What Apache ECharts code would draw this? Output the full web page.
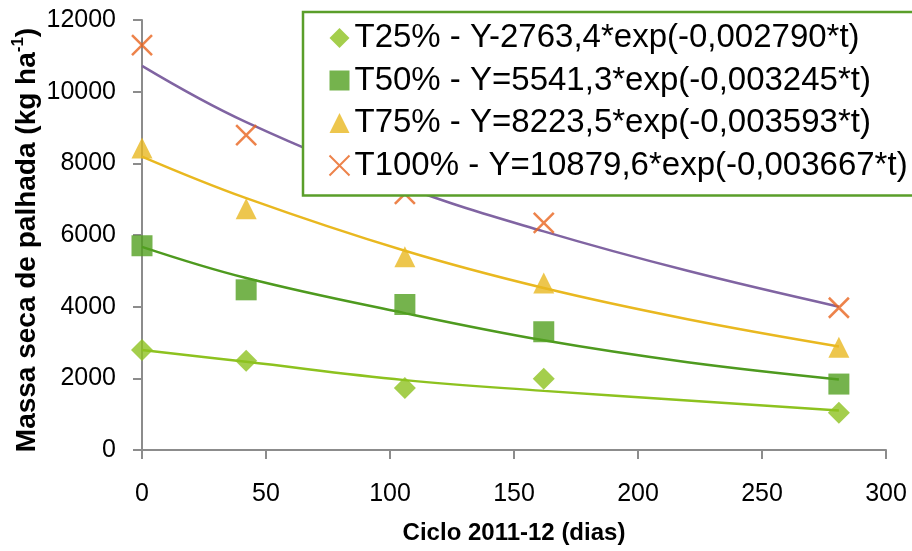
<!DOCTYPE html>
<html>
<head>
<meta charset="utf-8">
<script src="https://cdn.jsdelivr.net/npm/echarts@6/dist/echarts.min.js"></script>
<style>html,body{margin:0;padding:0;background:#fff;}#c{width:912px;height:551px;}</style>
</head>
<body>
<div id="c"></div>
<script>
// Observed data (days, kg/ha)
const tDays = [0, 42, 106, 162, 281];
const t25 = [2790, 2490, 1730, 1990, 1040];
const t50 = [5700, 4470, 4060, 3300, 1840];
const t75 = [8430, 6730, 5390, 4660, 2870];
const t100 = [11300, 8790, 7150, 6340, 3970];
// Fitted curves
const curveT = [0, 42, 106, 162, 220, 281];
const fit25 = [2790, 2460, 1950, 1650, 1380, 1100];
const fit50 = [5670, 4800, 3820, 3060, 2450, 1970];
const fit75 = [8190, 7030, 5560, 4520, 3650, 2890];
const fit100 = [10720, 9150, 7340, 6100, 5000, 4000];
const names = [
  'T25% - Y-2763,4*exp(-0,002790*t)',
  'T50% - Y=5541,3*exp(-0,003245*t)',
  'T75% - Y=8223,5*exp(-0,003593*t)',
  'T100% - Y=10879,6*exp(-0,003667*t)'
];
const xTicks = [0, 50, 100, 150, 200, 250, 300];
const yTicks = [0, 2000, 4000, 6000, 8000, 10000, 12000];

const pairs = (xs, ys) => xs.map((x, i) => [x, ys[i]]);
const FONT = '"Liberation Sans", Arial, sans-serif';
const AX = '#8c8c8c';

const chart = echarts.init(document.getElementById('c'), null, {renderer: 'canvas'});
const lineS = (data, color) => ({
  type: 'line', data: data, smooth: 0.4, showSymbol: false, silent: true, z: 1,
  lineStyle: {color: color, width: 2.5}
});
chart.setOption({
  animation: false,
  grid: {left: 142, right: 26, top: 20, bottom: 101, containLabel: false, outerBoundsMode: 'none'},
  xAxis: {
    type: 'value', min: xTicks[0], max: xTicks[xTicks.length - 1], interval: 50,
    splitLine: {show: false},
    axisLine: {show: true, lineStyle: {color: AX, width: 2}},
    axisTick: {show: true, length: 9, lineStyle: {color: AX, width: 2}},
    axisLabel: {margin: 32, fontSize: 25, color: '#000', fontFamily: FONT,
      formatter: v => String(v)},
    name: 'Ciclo 2011-12 (dias)', nameLocation: 'middle', nameGap: 71,
    nameTextStyle: {fontSize: 24, fontWeight: 'bold', color: '#000', fontFamily: FONT}
  },
  yAxis: {
    type: 'value', min: yTicks[0], max: yTicks[yTicks.length - 1], interval: 2000,
    splitLine: {show: false},
    axisLine: {show: true, lineStyle: {color: AX, width: 2}},
    axisTick: {show: true, length: 9, lineStyle: {color: AX, width: 2}},
    axisLabel: {margin: 26, fontSize: 25, color: '#000', fontFamily: FONT,
      formatter: v => String(v)}
  },
  legend: {
    orient: 'vertical', left: 303, top: 12,
    padding: [8, 40, 12, 24], itemGap: 6.5, itemWidth: 20, itemHeight: 20,
    borderColor: '#5a9e2a', borderWidth: 2.5, backgroundColor: '#fff',
    textStyle: {fontSize: 33, color: '#000', fontFamily: FONT, lineHeight: 36},
    data: names
  },
  graphic: [{
    type: 'text', x: 27, y: 240, rotation: Math.PI / 2,
    style: {
      text: '{a|Massa seca de palhada (kg ha}{s|-1}{a|)}',
      align: 'center', verticalAlign: 'middle', fill: '#000',
      rich: {
        a: {fontSize: 28, fontWeight: 'bold', fontFamily: FONT, lineHeight: 34},
        s: {fontSize: 17, fontWeight: 'bold', fontFamily: FONT, lineHeight: 18, verticalAlign: 'top'}
      }
    }
  }],
  series: [
    lineS(pairs(curveT, fit25), '#8dc21f'),
    lineS(pairs(curveT, fit50), '#4e9a1f'),
    lineS(pairs(curveT, fit75), '#e9b820'),
    lineS(pairs(curveT, fit100), '#8064a2'),
    {name: names[0], type: 'scatter', z: 3, data: pairs(tDays, t25), symbol: 'diamond', symbolSize: [22, 22],
     itemStyle: {color: '#8dc21f'}},
    {name: names[1], type: 'scatter', z: 3, data: pairs(tDays, t50), symbol: 'rect', symbolSize: [21, 21],
     itemStyle: {color: '#52a020'}},
    {name: names[2], type: 'scatter', z: 3, data: pairs(tDays, t75), symbol: 'triangle', symbolSize: [21, 21],
     itemStyle: {color: '#e9b820'}},
    {name: names[3], type: 'scatter', z: 3, data: pairs(tDays, t100), symbol: 'path://M0,0L20,20M20,0L0,20',
     symbolSize: [20, 20],
     itemStyle: {color: 'none', borderColor: '#e8641e', borderWidth: 2.5}}
  ]
});
</script>
</body>
</html>
